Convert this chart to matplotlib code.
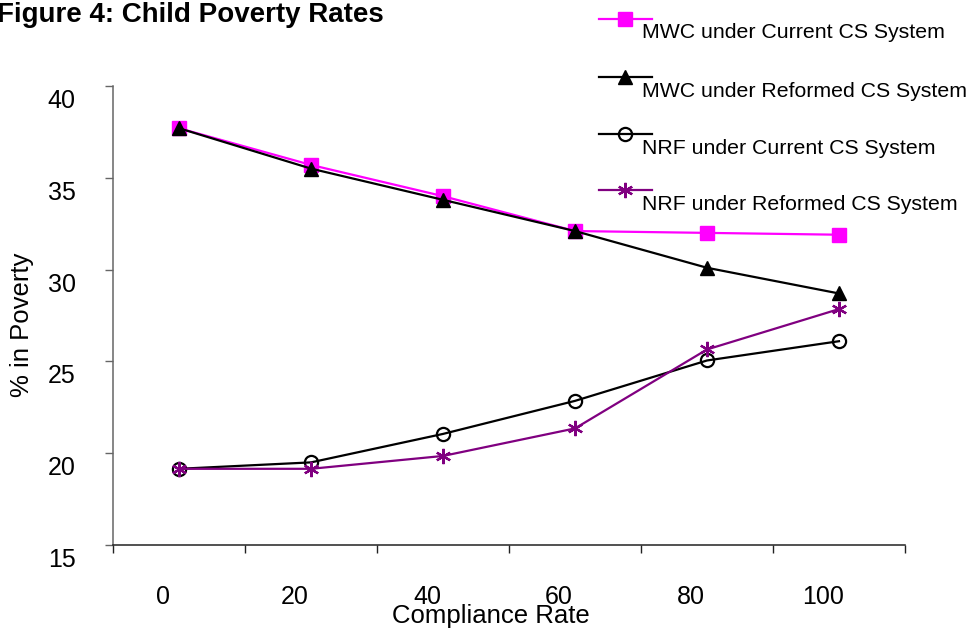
import matplotlib
matplotlib.use("Agg")
import matplotlib.pyplot as plt
from matplotlib.lines import Line2D
from matplotlib.transforms import ScaledTranslation

plt.rcParams["font.family"] = ["Liberation Sans", "DejaVu Sans"]

# Data
compliance = ["0", "20", "40", "60", "80", "100"]
mwc_current = [37.7, 35.7, 34.0, 32.1, 32.0, 31.9]
mwc_reformed = [37.7, 35.5, 33.8, 32.1, 30.1, 28.7]
nrf_current = [19.15, 19.5, 21.05, 22.85, 25.05, 26.1]
nrf_reformed = [19.15, 19.15, 19.85, 21.35, 25.65, 27.85]
series_names = [
    "MWC under Current CS System",
    "MWC under Reformed CS System",
    "NRF under Current CS System",
    "NRF under Reformed CS System",
]
y_ticks = [15, 20, 25, 30, 35, 40]

W, H = 971, 628
fig = plt.figure(figsize=(W / 100, H / 100), dpi=100)
fig.patch.set_facecolor("white")


def fx(px):
    return px / W


def fy(py):
    return 1 - py / H


ax_left, ax_right, ax_top, ax_bottom = 113, 905, 86, 545
ax = fig.add_axes([fx(ax_left), fy(ax_bottom), fx(ax_right - ax_left), (ax_bottom - ax_top) / H])

styles = [
    dict(color="#FF00FF", marker="s", markersize=10, markerfacecolor="#FF00FF", markeredgecolor="#FF00FF"),
    dict(color="black", marker="^", markersize=10.5, markerfacecolor="black", markeredgecolor="black"),
    dict(color="black", marker="o", markersize=9.5, markerfacecolor="none", markeredgecolor="black", markeredgewidth=1.6),
    dict(color="#800080", marker=(6, 2, 0), markersize=11, markeredgecolor="#800080", markeredgewidth=1.6),
]
series = [mwc_current, mwc_reformed, nrf_current, nrf_reformed]
xs = list(range(len(compliance)))
for vals, st in zip(series, styles):
    ax.plot(xs, vals, linewidth=1.6, clip_on=False, **st)

ax.set_xlim(-0.5, len(compliance) - 0.5)
ax.set_ylim(15, 40)

for side in ("top", "right"):
    ax.spines[side].set_visible(False)
ax.spines["left"].set_color("#666666")
ax.spines["bottom"].set_color("#222222")
ax.spines["left"].set_linewidth(1.1)
ax.spines["bottom"].set_linewidth(1.1)

# y axis ticks and labels (labels sit a little below their ticks)
ax.set_yticks(y_ticks)
ax.set_yticklabels([str(v) for v in y_ticks])
ax.tick_params(axis="y", direction="out", length=5.8, width=1.0, color="#666666",
               labelsize=18, pad=21)
for lab in ax.get_yticklabels():
    lab.set_transform(lab.get_transform() + ScaledTranslation(0, -12.5 / 100, fig.dpi_scale_trans))

# x axis: ticks on category boundaries, labels slightly left of category centres
cat_px = (ax_right - ax_left) / len(compliance)
label_shift = -16 / cat_px
ax.set_xticks([i - 0.5 for i in range(len(compliance) + 1)])
ax.set_xticklabels([])
ax.tick_params(axis="x", which="major", direction="out", length=5.8, width=1.0, color="#222222")
ax.set_xticks([x + label_shift for x in xs], compliance, minor=True)
ax.tick_params(axis="x", which="minor", length=0, labelsize=18, pad=29)

ax.set_xlabel("Compliance Rate", fontsize=18.5, va="baseline")
ax.xaxis.set_label_coords((491 - ax_left) / (ax_right - ax_left), (ax_bottom - 623) / (ax_bottom - ax_top))
ax.set_ylabel("% in Poverty", fontsize=18.5, va="center")
ax.yaxis.set_label_coords((22 - ax_left) / (ax_right - ax_left), (ax_bottom - 325) / (ax_bottom - ax_top))

# Title
fig.text(fx(-3), fy(22), "Figure 4: Child Poverty Rates", fontsize=20, fontweight="bold",
         ha="left", va="baseline")

# Legend drawn as line samples with text below-right
leg_line_y = [18.5, 77, 133.5, 190]
for name, st, ly in zip(series_names, styles, leg_line_y):
    fig.add_artist(Line2D([fx(599), fx(652)], [fy(ly), fy(ly)], transform=fig.transFigure,
                          linewidth=1.6, color=st["color"]))
    fig.add_artist(Line2D([fx(625)], [fy(ly)], transform=fig.transFigure, linestyle="none", **st))
    fig.text(fx(642), fy(ly + 20), name, fontsize=15.3, ha="left", va="baseline")

fig.savefig("out.png", dpi=100, facecolor="white")
